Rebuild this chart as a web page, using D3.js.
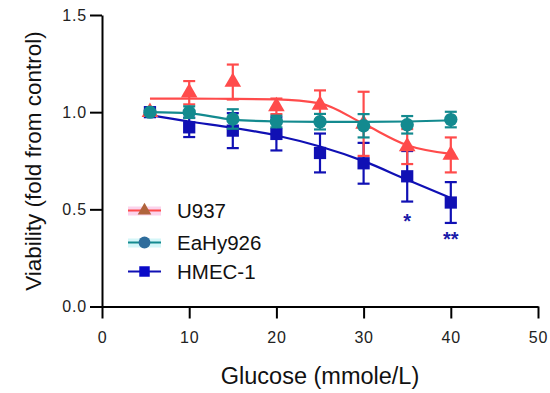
<!DOCTYPE html>
<html>
<head>
<meta charset="utf-8">
<script src="https://cdn.jsdelivr.net/npm/d3@7"></script>
<style>
body { margin: 0; background: #fff; }
svg { display: block; font-family: "Liberation Sans", Arial, sans-serif; }
</style>
</head>
<body>
<svg width="550" height="393"></svg>
<script>
// glucose concentrations
let glucose = [5.5, 10, 15, 20, 25, 30, 35, 40];

// measured means and SD
let u937 = [1.0, 1.10, 1.155, 1.03, 1.037, 0.94, 0.823, 0.78];
let u937Err = [0.01, 0.06, 0.09, 0.04, 0.075, 0.165, 0.09, 0.09];
let eahy = [1.0, 1.0, 0.965, 0.952, 0.951, 0.93, 0.935, 0.962];
let eahyErr = [0.01, 0.03, 0.05, 0.03, 0.04, 0.06, 0.045, 0.04];
let hmec = [1.0, 0.922, 0.905, 0.888, 0.79, 0.737, 0.67, 0.535];
let hmecErr = [0.01, 0.05, 0.09, 0.085, 0.1, 0.105, 0.13, 0.105];

// fitted curves
let u937Fit = [1.07, 1.07, 1.068, 1.066, 1.045, 0.94, 0.83, 0.785];
let eahyFit = [1.0, 0.994, 0.962, 0.952, 0.95, 0.95, 0.952, 0.958];
let hmecFit = [0.985, 0.952, 0.92, 0.88, 0.823, 0.748, 0.652, 0.558];

let xTicks = [0, 10, 20, 30, 40, 50];
let yTicks = [0.0, 0.5, 1.0, 1.5];

let svg = d3.select("svg");
let xscale = d3.scaleLinear().domain([0, 50]).range([102, 538]);
let yscale = d3.scaleLinear().domain([0, 1.5]).range([306.5, 15]);

// axes
let xaxis = d3.axisBottom(xscale).tickValues(xTicks).tickFormat(d3.format("d")).tickSize(12).tickSizeOuter(0);
let yaxis = d3.axisLeft(yscale).tickValues(yTicks).tickFormat(d3.format(".1f")).tickSize(12).tickSizeOuter(0);

let gx = svg.append("g").attr("transform", "translate(0,306.5)").call(xaxis);
let gy = svg.append("g").attr("transform", "translate(102,0)").call(yaxis);
[gx, gy].forEach(function(g) {
	g.attr("font-size", null).attr("font-family", null);
	g.select(".domain").attr("stroke", "#000").attr("stroke-width", 2);
	g.selectAll(".tick line").attr("stroke", "#000").attr("stroke-width", 2);
	g.selectAll(".tick text")
		.attr("fill", "#222")
		.style("font-size", "16px")
		.style("letter-spacing", "0.8px");
});
gx.selectAll(".tick text").attr("y", 25);
gy.selectAll(".tick text").attr("x", -15);

// axis titles
svg.append("text")
	.attr("x", 320).attr("y", 384)
	.attr("text-anchor", "middle")
	.attr("font-size", 23.5)
	.attr("fill", "#111")
	.text("Glucose (mmole/L)");
svg.append("text")
	.attr("text-anchor", "middle")
	.attr("transform", "translate(41,161)rotate(-90)")
	.attr("font-size", 22.5)
	.attr("fill", "#111")
	.text("Viability (fold from control)");

let series = [
	{name: "HMEC-1", vals: hmec, err: hmecErr, fit: hmecFit, color: "#1010b4", shape: d3.symbolSquare, size: 150},
	{name: "U937", vals: u937, err: u937Err, fit: u937Fit, color: "#ff4b4b", shape: d3.symbolTriangle, size: 120},
	{name: "EaHy926", vals: eahy, err: eahyErr, fit: eahyFit, color: "#138a8f", shape: d3.symbolCircle, size: 140}
];

let line = d3.line()
	.x(function(d) {return xscale(d.x);})
	.y(function(d) {return yscale(d.y);})
	.curve(d3.curveMonotoneX);

series.forEach(function(s) {
	let g = svg.append("g");
	let pts = glucose.map(function(x, i) {return {x: x, y: s.vals[i], e: s.err[i], f: s.fit[i]};});
	g.append("path")
		.datum(pts.map(function(p) {return {x: p.x, y: p.f};}))
		.attr("d", line)
		.attr("fill", "none")
		.attr("stroke", s.color)
		.attr("stroke-width", 2.2);
	let eb = g.selectAll(".err").data(pts).enter().append("g");
	eb.append("line")
		.attr("x1", function(d) {return xscale(d.x);})
		.attr("x2", function(d) {return xscale(d.x);})
		.attr("y1", function(d) {return yscale(d.y + d.e);})
		.attr("y2", function(d) {return yscale(d.y - d.e);})
		.attr("stroke", s.color).attr("stroke-width", 2.2);
	[1, -1].forEach(function(sign) {
		eb.append("line")
			.attr("x1", function(d) {return xscale(d.x) - 6;})
			.attr("x2", function(d) {return xscale(d.x) + 6;})
			.attr("y1", function(d) {return yscale(d.y + sign * d.e);})
			.attr("y2", function(d) {return yscale(d.y + sign * d.e);})
			.attr("stroke", s.color).attr("stroke-width", 2.2);
	});
	g.selectAll(".pt").data(pts).enter().append("path")
		.attr("d", d3.symbol().type(s.shape).size(s.size))
		.attr("transform", function(d) {return "translate(" + xscale(d.x) + "," + yscale(d.y) + ")";})
		.attr("fill", s.color);
});

// significance marks
let stars = [{x: 35, y: 0.404, t: "*"}, {x: 40, y: 0.311, t: "**"}];
svg.selectAll(".star").data(stars).enter().append("text")
	.attr("x", function(d) {return xscale(d.x);})
	.attr("y", function(d) {return yscale(d.y);})
	.attr("text-anchor", "middle")
	.attr("font-size", 20)
	.attr("font-weight", "bold")
	.attr("fill", "#1a1aa8")
	.text(function(d) {return d.t;});

// legend
let legend = [
	{name: "U937", color: "#ff4b4b", band: "#fbd3ec", mark: "#b0643c", shape: d3.symbolTriangle, size: 80, y: 210.5},
	{name: "EaHy926", color: "#138a8f", band: "#d4f6f8", mark: "#2f6d9c", shape: d3.symbolCircle, size: 110, y: 242.5},
	{name: "HMEC-1", color: "#1010b4", band: null, mark: "#0a0ac8", shape: d3.symbolSquare, size: 110, y: 271.5}
];
let lg = svg.selectAll(".leg").data(legend).enter().append("g")
	.attr("transform", function(d) {return "translate(0," + d.y + ")";});
lg.filter(function(d) {return d.band;}).append("rect")
	.attr("x", 128).attr("y", -4).attr("width", 33).attr("height", 9)
	.attr("fill", function(d) {return d.band;});
lg.append("line")
	.attr("x1", 128).attr("x2", 161)
	.attr("stroke", function(d) {return d.color;})
	.attr("stroke-width", 2.2);
lg.append("path")
	.attr("transform", "translate(144.5,0)")
	.attr("d", function(d) {return d3.symbol().type(d.shape).size(d.size)();})
	.attr("fill", function(d) {return d.mark;});
lg.append("text")
	.attr("x", 177).attr("y", 7.5)
	.attr("font-size", 20.5)
	.attr("fill", "#111")
	.text(function(d) {return d.name;});
</script>
</body>
</html>
